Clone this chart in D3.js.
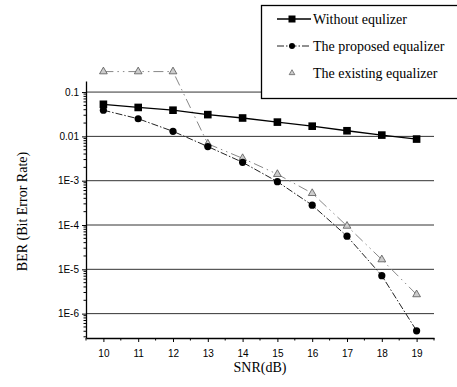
<!DOCTYPE html>
<html>
<head>
<meta charset="utf-8">
<script src="https://cdn.jsdelivr.net/npm/d3@7"></script>
<style>
  html, body { margin: 0; padding: 0; background: #fff; }
  svg { display: block; }
</style>
</head>
<body>
<svg id="chart" width="457" height="387"></svg>
<script>
// ── Data ───────────────────────────────────────────────────────────────────
const snr = [10, 11, 12, 13, 14, 15, 16, 17, 18, 19];
const berWithout = [0.053, 0.045, 0.039, 0.031, 0.026, 0.021, 0.017, 0.0134, 0.0107, 0.0087];
const berProposed = [0.039, 0.025, 0.013, 0.0059, 0.0026, 9.5e-4, 2.8e-4, 5.6e-5, 7.2e-6, 4.1e-7];
const berExisting = [0.29, 0.29, 0.29, 0.0068, 0.0032, 0.0014, 5.2e-4, 9.5e-5, 1.66e-5, 2.7e-6];
const xTicks = [10, 11, 12, 13, 14, 15, 16, 17, 18, 19];
const yTicks = [0.1, 0.01, 1e-3, 1e-4, 1e-5, 1e-6];
const yTickLabels = ["0.1", "0.01", "1E-3", "1E-4", "1E-5", "1E-6"];
const legendLabels = ["Without equlizer", "The proposed equalizer", "The existing equalizer"];

const W = 457, H = 387;
const margin = { top: 81, right: 23, bottom: 49, left: 86 };
const iw = W - margin.left - margin.right;
const ih = H - margin.top - margin.bottom;

const svg = d3.select("#chart");
const g = svg.append("g").attr("transform", `translate(${margin.left},${margin.top})`);

const x = d3.scaleLinear().domain([9.5, 19.5]).range([0, iw]);
const y = d3.scaleLog().domain([Math.pow(10, -6.55), Math.pow(10, -0.75)]).range([ih, 0]);

// Grid lines at each decade
g.append("g").selectAll("line").data(yTicks).enter().append("line")
  .attr("x1", 0).attr("x2", iw)
  .attr("y1", d => y(d)).attr("y2", d => y(d))
  .attr("stroke", "#333").attr("stroke-width", 1);

// ── Axes ──────────────────────────────────────────────────────────────────
const tickFont = "'Liberation Sans', Arial, sans-serif";

const xAxis = g.append("g").attr("transform", `translate(0,${ih})`)
  .call(d3.axisBottom(x).tickValues(xTicks).tickFormat(d3.format("d")).tickSize(4).tickSizeOuter(0));
const xMinor = d3.range(9.5, 19.51, 0.5).filter(v => !xTicks.includes(v));
xAxis.selectAll(".minor").data(xMinor).enter().append("line")
  .attr("x1", d => x(d)).attr("x2", d => x(d)).attr("y1", 0).attr("y2", 2.5)
  .attr("stroke", "#000");

const yAxis = g.append("g")
  .call(d3.axisLeft(y).tickValues(yTicks).tickFormat((d, i) => yTickLabels[i]).tickSize(4).tickSizeOuter(0));
const [yLo, yHi] = y.domain();
const yMinor = [];
for (let e = -7; e <= 0; e++) {
  for (let m = 2; m <= 9; m++) {
    const v = m * Math.pow(10, e);
    if (v >= yLo && v <= yHi) yMinor.push(v);
  }
}
yAxis.selectAll(".minor").data(yMinor).enter().append("line")
  .attr("x1", -2.5).attr("x2", 0).attr("y1", d => y(d)).attr("y2", d => y(d))
  .attr("stroke", "#000");

[xAxis, yAxis].forEach(a => {
  a.selectAll("path.domain").attr("stroke", "#000").attr("stroke-width", 1.3);
  a.selectAll("text").style("font-family", tickFont).style("font-size", "10px").attr("fill", "#000");
});
xAxis.selectAll(".tick text").attr("dy", "1.15em");

// Axis titles
const titleFont = "'Liberation Serif', 'Times New Roman', serif";
svg.append("text")
  .attr("x", margin.left + iw / 2).attr("y", 372)
  .attr("text-anchor", "middle")
  .style("font-family", titleFont).style("font-size", "14px")
  .text("SNR(dB)");
svg.append("text")
  .attr("transform", `translate(27,${margin.top + ih / 2 + 2}) rotate(-90)`)
  .attr("text-anchor", "middle")
  .style("font-family", titleFont).style("font-size", "14px")
  .text("BER (Bit Error Rate)");

// ── Series ────────────────────────────────────────────────────────────────
const line = d3.line().x(d => x(d[0])).y(d => y(d[1]));
const pts = vals => snr.map((s, i) => [s, vals[i]]);

g.append("path").datum(pts(berExisting)).attr("d", line)
  .attr("fill", "none").attr("stroke", "#888").attr("stroke-width", 1)
  .attr("stroke-dasharray", "10,4,1.5,4,1.5,4");
g.append("path").datum(pts(berProposed)).attr("d", line)
  .attr("fill", "none").attr("stroke", "#222").attr("stroke-width", 1)
  .attr("stroke-dasharray", "7,2,1.5,2");
g.append("path").datum(pts(berWithout)).attr("d", line)
  .attr("fill", "none").attr("stroke", "#000").attr("stroke-width", 1.3);

const tri = d3.symbol().type(d3.symbolTriangle).size(26);
g.append("g").selectAll("path").data(pts(berExisting)).enter().append("path")
  .attr("d", tri)
  .attr("transform", d => `translate(${x(d[0])},${y(d[1])})`)
  .attr("fill", "#ccc").attr("stroke", "#555").attr("stroke-width", 0.8);

g.append("g").selectAll("circle").data(pts(berProposed)).enter().append("circle")
  .attr("cx", d => x(d[0])).attr("cy", d => y(d[1])).attr("r", 3.6)
  .attr("fill", "#000");

g.append("g").selectAll("rect").data(pts(berWithout)).enter().append("rect")
  .attr("x", d => x(d[0]) - 3.8).attr("y", d => y(d[1]) - 3.8)
  .attr("width", 7.6).attr("height", 7.6)
  .attr("fill", "#000");

// ── Legend ────────────────────────────────────────────────────────────────
const lg = svg.append("g");
lg.append("rect").attr("x", 261.5).attr("y", 5.5).attr("width", 210).attr("height", 93)
  .attr("fill", "#fff").attr("stroke", "#000").attr("stroke-width", 1.3);

const rowY = [19, 46, 73];
lg.append("line").attr("x1", 277).attr("x2", 311).attr("y1", rowY[0]).attr("y2", rowY[0])
  .attr("stroke", "#000").attr("stroke-width", 1.3);
lg.append("rect").attr("x", 292 - 3.5).attr("y", rowY[0] - 3.5).attr("width", 7).attr("height", 7).attr("fill", "#000");
lg.append("line").attr("x1", 277).attr("x2", 311).attr("y1", rowY[1]).attr("y2", rowY[1])
  .attr("stroke", "#222").attr("stroke-width", 1).attr("stroke-dasharray", "7,2,1.5,2");
lg.append("circle").attr("cx", 292).attr("cy", rowY[1]).attr("r", 3).attr("fill", "#000");
lg.append("path").attr("d", d3.symbol().type(d3.symbolTriangle).size(14)())
  .attr("transform", `translate(292,${rowY[2]})`)
  .attr("fill", "#ccc").attr("stroke", "#555").attr("stroke-width", 0.7);

lg.selectAll("text").data(legendLabels).enter().append("text")
  .attr("x", 313).attr("y", (d, i) => rowY[i] + 4.5)
  .style("font-family", titleFont).style("font-size", "14px")
  .text(d => d);
</script>
</body>
</html>
